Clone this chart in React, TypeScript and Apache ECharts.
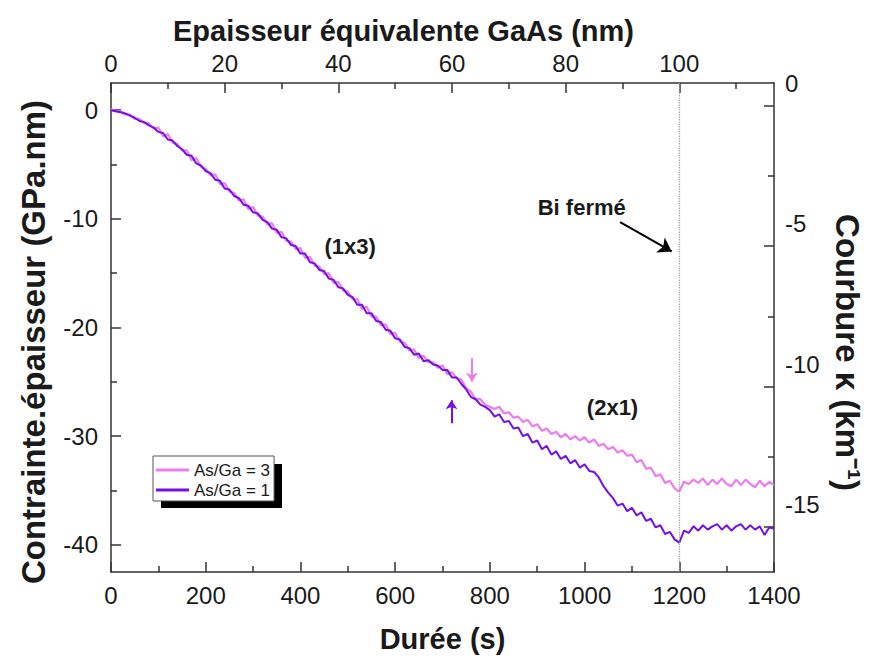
import { useEffect, useRef } from 'react';
import * as echarts from 'echarts';

// ---------- data ----------
const TIME_STEP_S = 10; // sampling step of the stress curves (s)
const TIME_MAX_S = 1400;
const SECONDS_PER_NM = 12; // 100 nm GaAs <-> 1200 s

// Contrainte.épaisseur (GPa.nm), one value every 10 s from 0 to 1400 s
const stressAsGa3 = [
  0.1, -0.1, -0.1, -0.4, -0.4, -0.8, -0.8, -1.2, -1.2, -1.7,
  -1.6, -2.4, -2.2, -3.0, -3.1, -3.7, -3.7, -4.6, -4.4, -5.2,
  -5.4, -6.0, -5.9, -6.8, -6.7, -7.5, -7.6, -8.3, -8.2, -9.1,
  -8.9, -9.7, -9.8, -10.5, -10.4, -11.3, -11.2, -12.0, -12.1, -12.8,
  -12.7, -13.6, -13.5, -14.3, -14.4, -15.1, -15.0, -15.9, -15.8, -16.6,
  -16.7, -17.4, -17.4, -18.3, -18.1, -19.0, -19.0, -19.8, -19.7, -20.6,
  -20.5, -21.3, -21.4, -22.1, -22.0, -22.8, -22.6, -23.2, -23.2, -23.7,
  -23.5, -24.3, -24.1, -24.7, -24.8, -25.6, -25.9, -26.6, -26.6, -27.1,
  -27.3, -27.5, -27.3, -27.9, -27.8, -28.3, -28.2, -28.7, -28.5, -29.1,
  -28.9, -29.5, -29.3, -29.8, -29.6, -30.1, -29.8, -30.3, -30.0, -30.4,
  -30.1, -30.6, -30.3, -30.9, -30.7, -31.2, -31.0, -31.5, -31.3, -31.8,
  -31.7, -32.4, -32.2, -33.0, -32.9, -33.7, -33.5, -34.3, -34.1, -34.8,
  -35.1, -34.2, -34.4, -34.0, -34.3, -33.9, -34.5, -34.0, -34.4, -33.9,
  -34.4, -34.6, -34.0, -34.5, -34.0, -34.4, -34.7, -34.1, -34.6, -34.2,
  -34.5,
];
const stressAsGa1 = [
  0.0, -0.1, -0.2, -0.3, -0.5, -0.7, -1.0, -1.1, -1.4, -1.6,
  -2.0, -2.1, -2.7, -2.8, -3.3, -3.6, -4.1, -4.2, -4.9, -5.1,
  -5.6, -5.8, -6.4, -6.5, -7.2, -7.3, -7.9, -8.1, -8.7, -8.8,
  -9.4, -9.5, -10.1, -10.3, -10.9, -11.0, -11.7, -11.8, -12.4, -12.5,
  -13.2, -13.2, -14.0, -14.1, -14.7, -14.8, -15.5, -15.6, -16.3, -16.4,
  -17.0, -17.2, -17.9, -17.9, -18.7, -18.7, -19.4, -19.5, -20.2, -20.3,
  -21.0, -21.1, -21.8, -21.9, -22.5, -22.4, -23.1, -23.0, -23.4, -23.5,
  -23.9, -23.9, -24.6, -24.6, -25.2, -25.7, -26.4, -26.6, -27.1, -27.3,
  -27.6, -28.2, -28.0, -28.7, -28.6, -29.3, -29.2, -30.0, -29.8, -30.6,
  -30.4, -31.2, -30.9, -31.7, -31.4, -32.1, -31.8, -32.5, -32.2, -32.9,
  -32.6, -33.2, -33.3, -33.8, -34.6, -35.2, -35.7, -36.4, -36.2, -36.9,
  -36.6, -37.3, -37.0, -37.8, -37.6, -38.4, -38.2, -39.0, -38.8, -39.5,
  -39.8, -38.7, -38.9, -38.3, -38.7, -38.2, -38.6, -38.3, -38.1, -38.6,
  -38.2, -38.7, -38.3, -38.1, -38.6, -38.2, -38.6, -38.3, -39.1, -38.4,
  -38.5,
];

const seriesNames = ['As/Ga = 3', 'As/Ga = 1'];

// ticks and labels
const bottomLabels = [0, 200, 400, 600, 800, 1000, 1200, 1400];
const bottomMinor = [100, 300, 500, 700, 900, 1100, 1300];
const topLabels = [0, 20, 40, 60, 80, 100];
const topMinor = [10, 30, 50, 70, 90, 110];
const leftLabels = [0, -10, -20, -30, -40];
const leftMinor = [-5, -15, -25, -35];
const rightLabels = [0, -5, -10, -15];
const rightMajorTicks = [-0.8, -5.8, -10.8, -15.8];
const rightMinorTicks = [-3.3, -8.3, -13.3];
const LEFT_MIN = -42.5;
const LEFT_MAX = 2.5;
const RIGHT_MIN = -17.4;
const RIGHT_MAX = 0;

// annotations (data coordinates: s, GPa.nm)
const biClosedTime = 1200;
const arrowBi = [[1075, -10.3], [1184, -13.0]];
const arrowPink = [[762, -22.8], [762, -25.0]];
const arrowPurple = [[719, -28.8], [719, -26.7]];
const annotations = [
  { text: '(1x3)', t: 505, v: -12.5 },
  { text: '(2x1)', t: 1059, v: -27.4 },
  { text: 'Bi fermé', t: 994, v: -9.0 },
];

// ---------- style ----------
const FONT = "'Liberation Sans', Arial, Helvetica, sans-serif";
const PINK = '#ee7cee';
const PURPLE = '#7410e4';
const AXIS = '#333333';
const TEXT = '#1a1a1a';

const plain = (v: number) => String(v);

function minorAxis(position: string, min: number, max: number, values: number[]) {
  return {
    type: 'value',
    position,
    min,
    max,
    axisLine: { show: false, onZero: false },
    axisTick: { show: true, inside: true, length: 6, customValues: values, lineStyle: { color: AXIS, width: 1.5 } },
    axisLabel: { show: false },
    splitLine: { show: false },
  };
}

function arrowLine(from: number[], to: number[], color: string, size: number) {
  return [
    { coord: from, symbol: 'none', lineStyle: { color, width: 2, type: 'solid' } },
    { coord: to, symbol: 'arrow', symbolSize: size, lineStyle: { color, width: 2, type: 'solid' }, itemStyle: { color } },
  ];
}

export default function App() {
  const ref = useRef<HTMLDivElement>(null);

  useEffect(() => {
    if (!ref.current) return;
    const chart = echarts.init(ref.current, null, { renderer: 'svg' });

    const toPairs = (arr: number[]) => arr.map((v, i) => [i * TIME_STEP_S, v]);
    const labelStyle = { fontFamily: FONT, fontSize: 24, color: TEXT, formatter: plain };
    const nameStyle = { fontFamily: FONT, fontWeight: 'bold', color: TEXT };

    const option: any = {
      animation: false,
      backgroundColor: '#ffffff',
      grid: { left: 111, right: 103, top: 83, bottom: 86, containLabel: false },
      legend: {
        data: seriesNames.map((n) => ({ name: n, icon: 'rect' })),
        orient: 'vertical',
        left: 153,
        top: 456,
        itemWidth: 33,
        itemHeight: 3,
        itemGap: 2,
        padding: [5, 4, 2, 3],
        backgroundColor: '#ffffff',
        borderColor: '#555555',
        borderWidth: 1,
        borderRadius: 0,
        selectedMode: false,
        z: 10,
        textStyle: { fontFamily: FONT, fontSize: 17, color: TEXT, lineHeight: 18 },
      },
      xAxis: [
        {
          type: 'value',
          position: 'bottom',
          min: 0,
          max: TIME_MAX_S,
          name: 'Durée (s)',
          nameLocation: 'middle',
          nameGap: 52,
          nameTextStyle: { ...nameStyle, fontSize: 29 },
          axisLine: { show: true, onZero: false, lineStyle: { color: AXIS, width: 1.5 } },
          axisTick: { show: true, inside: true, length: 10, customValues: bottomLabels, lineStyle: { color: AXIS, width: 1.5 } },
          axisLabel: { ...labelStyle, margin: 11, customValues: bottomLabels },
          splitLine: { show: false },
        },
        {
          type: 'value',
          position: 'top',
          min: 0,
          max: TIME_MAX_S / SECONDS_PER_NM,
          name: 'Epaisseur équivalente GaAs (nm)',
          nameLocation: 'middle',
          nameGap: 38,
          nameTextStyle: { ...nameStyle, fontSize: 29, padding: [0, 78, 0, 0] },
          axisLine: { show: true, onZero: false, lineStyle: { color: AXIS, width: 1.5 } },
          axisTick: { show: true, inside: true, length: 10, customValues: topLabels, lineStyle: { color: AXIS, width: 1.5 } },
          axisLabel: { ...labelStyle, margin: 8, customValues: topLabels },
          splitLine: { show: false },
        },
        minorAxis('bottom', 0, TIME_MAX_S, bottomMinor),
        minorAxis('top', 0, TIME_MAX_S / SECONDS_PER_NM, topMinor),
      ],
      yAxis: [
        {
          type: 'value',
          position: 'left',
          min: LEFT_MIN,
          max: LEFT_MAX,
          name: 'Contrainte.épaisseur (GPa.nm)',
          nameLocation: 'middle',
          nameGap: 61,
          nameRotate: 90,
          nameTextStyle: { ...nameStyle, fontSize: 33, padding: [0, 29, 0, 0] },
          axisLine: { show: true, onZero: false, lineStyle: { color: AXIS, width: 1.5 } },
          axisTick: { show: true, inside: true, length: 10, customValues: leftLabels, lineStyle: { color: AXIS, width: 1.5 } },
          axisLabel: { ...labelStyle, margin: 13, customValues: leftLabels },
          splitLine: { show: false },
        },
        {
          type: 'value',
          position: 'right',
          min: RIGHT_MIN,
          max: RIGHT_MAX,
          name: 'Courbure κ (km⁻¹)',
          nameLocation: 'middle',
          nameGap: 57,
          nameRotate: -90,
          nameTextStyle: { ...nameStyle, fontSize: 33, padding: [0, 0, 0, 50] },
          axisLine: { show: true, onZero: false, lineStyle: { color: AXIS, width: 1.5 } },
          axisTick: { show: true, inside: true, length: 10, customValues: rightMajorTicks, lineStyle: { color: AXIS, width: 1.5 } },
          axisLabel: { ...labelStyle, margin: 11, customValues: rightLabels },
          splitLine: { show: false },
        },
        minorAxis('left', LEFT_MIN, LEFT_MAX, leftMinor),
        minorAxis('right', RIGHT_MIN, RIGHT_MAX, rightMinorTicks),
      ],
      series: [
        {
          type: 'line',
          name: seriesNames[0],
          xAxisIndex: 0,
          yAxisIndex: 0,
          data: toPairs(stressAsGa3),
          showSymbol: false,
          symbol: 'none',
          lineStyle: { color: PINK, width: 2.2 },
          itemStyle: { color: PINK },
          z: 2,
          markLine: {
            silent: true,
            animation: false,
            label: { show: false },
            emphasis: { disabled: true },
            data: [
              [
                { coord: [biClosedTime, LEFT_MAX], symbol: 'none', lineStyle: { color: '#9a9a9a', width: 1.2, type: 'dotted' } },
                { coord: [biClosedTime, LEFT_MIN], symbol: 'none', lineStyle: { color: '#9a9a9a', width: 1.2, type: 'dotted' } },
              ],
              arrowLine(arrowBi[0], arrowBi[1], '#000000', 13),
              arrowLine(arrowPink[0], arrowPink[1], PINK, 9),
            ],
          },
        },
        {
          type: 'line',
          name: seriesNames[1],
          xAxisIndex: 0,
          yAxisIndex: 0,
          data: toPairs(stressAsGa1),
          showSymbol: false,
          symbol: 'none',
          lineStyle: { color: PURPLE, width: 2 },
          itemStyle: { color: PURPLE },
          z: 3,
          markLine: {
            silent: true,
            animation: false,
            label: { show: false },
            emphasis: { disabled: true },
            data: [arrowLine(arrowPurple[0], arrowPurple[1], PURPLE, 9)],
          },
        },
      ],
    };

    chart.setOption(option);

    const texts = annotations.map((a) => {
      const p = chart.convertToPixel({ xAxisIndex: 0, yAxisIndex: 0 }, [a.t, a.v]) as number[];
      return {
        type: 'text',
        x: p[0],
        y: p[1],
        z: 20,
        silent: true,
        style: {
          text: a.text,
          fontFamily: FONT,
          fontSize: 22,
          fontWeight: 'bold',
          fill: TEXT,
          align: 'center',
          verticalAlign: 'middle',
        },
      };
    });

    chart.setOption({
      graphic: [
        {
          type: 'rect',
          z: 1,
          silent: true,
          shape: { x: 161, y: 464, width: 121, height: 44 },
          style: { fill: '#000000' },
        },
        ...texts,
      ],
    });

    return () => {
      chart.dispose();
    };
  }, []);

  return (
    <div
      ref={ref}
      style={{ position: 'absolute', left: 0, top: 0, width: 877, height: 658, background: '#fff' }}
    />
  );
}
